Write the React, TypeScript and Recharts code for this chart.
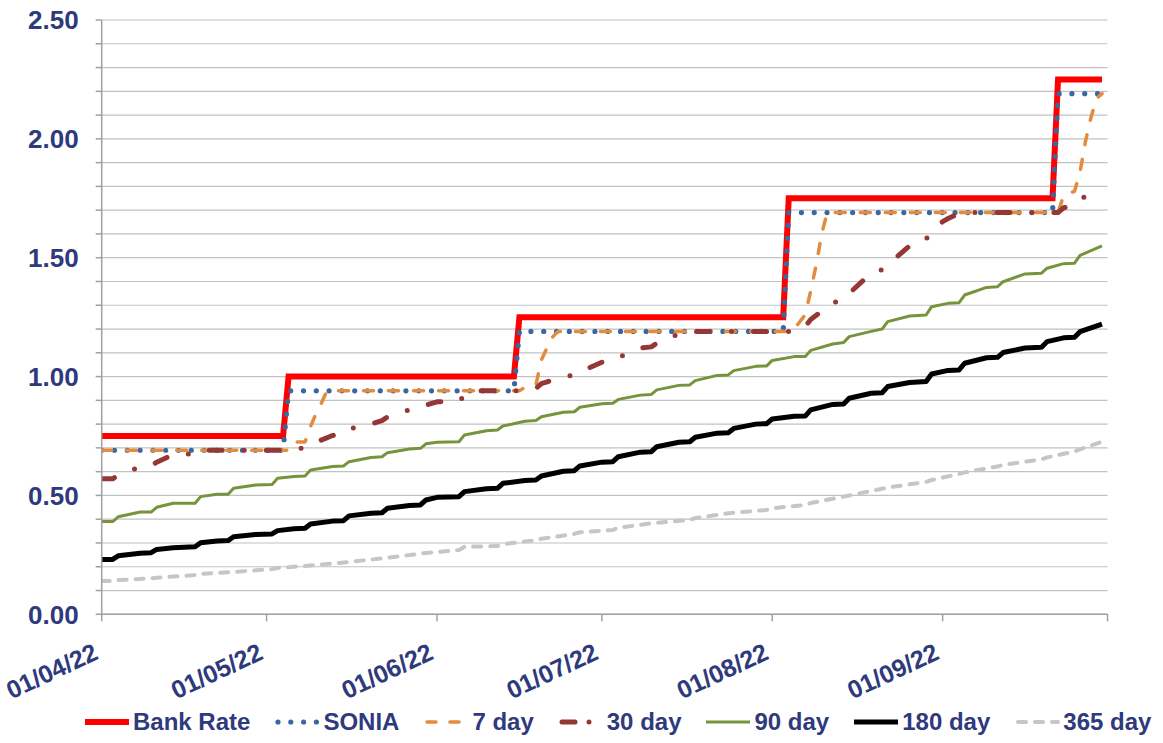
import React from "react";
import { LineChart, Line, XAxis, YAxis, CartesianGrid } from "recharts";

// x values are day offsets from 01/04/22 (01/10/22 = 183)
const X_TICKS = [0, 30, 61, 91, 122, 153, 183];
const X_TICK_LABELS = ["01/04/22", "01/05/22", "01/06/22", "01/07/22", "01/08/22", "01/09/22", ""];
const Y_TICKS = [0, 0.1, 0.2, 0.3, 0.4, 0.5, 0.6, 0.7, 0.8, 0.9, 1.0, 1.1, 1.2, 1.3, 1.4, 1.5, 1.6, 1.7, 1.8, 1.9, 2.0, 2.1, 2.2, 2.3, 2.4, 2.5];

const BANK_DAYS = [0, 33, 34, 75, 76, 124, 125, 173, 174, 182];
const BANK_RATE = [0.75, 0.75, 1.0, 1.0, 1.25, 1.25, 1.75, 1.75, 2.25, 2.25];

const SONIA_DAYS = [0, 33, 34, 75, 76, 124, 125, 173, 174, 182];
const SONIA = [0.69, 0.69, 0.94, 0.94, 1.19, 1.19, 1.69, 1.69, 2.19, 2.19];

const D7_DAYS = [0, 34, 35, 37, 38, 39, 40, 41, 76, 77, 79, 80, 81, 82, 83, 125, 126, 128, 129, 130, 131, 132, 174, 175, 177, 178, 179, 180, 181, 182];
const D7 = [0.69, 0.69, 0.725, 0.725, 0.79, 0.845, 0.89, 0.94, 0.94, 0.955, 0.965, 1.07, 1.12, 1.165, 1.19, 1.19, 1.2, 1.26, 1.36, 1.47, 1.6, 1.69, 1.69, 1.76, 1.78, 1.86, 1.99, 2.09, 2.17, 2.19];

const D30_DAYS = [0, 2, 3, 7, 9, 10, 13, 17, 18, 34, 35, 37, 38, 42, 44, 45, 49, 51, 52, 56, 58, 59, 61, 65, 66, 67, 68, 76, 77, 79, 80, 84, 86, 87, 91, 93, 94, 98, 100, 101, 105, 107, 108, 125, 126, 128, 129, 133, 135, 136, 140, 142, 143, 147, 149, 150, 153, 154, 156, 157, 174, 175, 177, 178, 179, 180, 181, 182];
const D30 = [0.57, 0.57, 0.585, 0.62, 0.625, 0.64, 0.672, 0.675, 0.69, 0.69, 0.695, 0.7, 0.715, 0.752, 0.76, 0.78, 0.8, 0.815, 0.83, 0.86, 0.87, 0.88, 0.894, 0.896, 0.92, 0.937, 0.94, 0.94, 0.945, 0.95, 0.97, 1.0, 1.005, 1.02, 1.06, 1.065, 1.08, 1.12, 1.125, 1.14, 1.18, 1.185, 1.19, 1.19, 1.2, 1.21, 1.24, 1.31, 1.325, 1.35, 1.435, 1.45, 1.47, 1.55, 1.56, 1.58, 1.652, 1.665, 1.687, 1.69, 1.69, 1.71, 1.72, 1.74, 1.76, 1.775, 1.79, 1.8];

const D90_DAYS = [0, 2, 3, 7, 9, 10, 13, 17, 18, 21, 23, 24, 28, 31, 32, 35, 37, 38, 42, 44, 45, 49, 51, 52, 56, 58, 59, 61, 65, 66, 70, 72, 73, 77, 79, 80, 84, 86, 87, 91, 93, 94, 98, 100, 101, 105, 107, 108, 112, 114, 115, 119, 121, 122, 126, 128, 129, 133, 135, 136, 140, 142, 143, 147, 150, 151, 154, 156, 157, 161, 163, 164, 168, 171, 172, 175, 177, 178, 182];
const D90 = [0.39, 0.39, 0.41, 0.43, 0.43, 0.45, 0.467, 0.467, 0.495, 0.505, 0.505, 0.53, 0.544, 0.546, 0.572, 0.58, 0.582, 0.607, 0.622, 0.624, 0.642, 0.66, 0.663, 0.68, 0.695, 0.698, 0.717, 0.724, 0.726, 0.754, 0.772, 0.775, 0.792, 0.812, 0.815, 0.831, 0.85, 0.852, 0.871, 0.886, 0.888, 0.904, 0.922, 0.925, 0.944, 0.963, 0.965, 0.983, 1.005, 1.007, 1.025, 1.043, 1.045, 1.068, 1.084, 1.084, 1.11, 1.137, 1.143, 1.168, 1.19, 1.2, 1.231, 1.255, 1.259, 1.294, 1.308, 1.311, 1.343, 1.375, 1.378, 1.399, 1.432, 1.435, 1.456, 1.475, 1.477, 1.51, 1.55];

const D180_DAYS = [0, 2, 3, 7, 9, 10, 13, 17, 18, 21, 23, 24, 28, 31, 32, 35, 37, 38, 42, 44, 45, 49, 51, 52, 56, 58, 59, 61, 65, 66, 70, 72, 73, 77, 79, 80, 84, 86, 87, 91, 93, 94, 98, 100, 101, 105, 107, 108, 112, 114, 115, 119, 121, 122, 126, 128, 129, 133, 135, 136, 140, 142, 143, 147, 150, 151, 154, 156, 157, 161, 163, 164, 168, 171, 172, 175, 177, 178, 182];
const D180 = [0.231, 0.231, 0.246, 0.257, 0.259, 0.273, 0.28, 0.284, 0.301, 0.308, 0.31, 0.326, 0.336, 0.338, 0.352, 0.36, 0.362, 0.38, 0.392, 0.394, 0.414, 0.425, 0.427, 0.446, 0.458, 0.46, 0.481, 0.492, 0.495, 0.516, 0.528, 0.53, 0.551, 0.563, 0.565, 0.582, 0.602, 0.604, 0.624, 0.64, 0.642, 0.663, 0.682, 0.684, 0.705, 0.724, 0.726, 0.745, 0.762, 0.764, 0.782, 0.8, 0.802, 0.822, 0.833, 0.834, 0.86, 0.883, 0.885, 0.909, 0.93, 0.932, 0.958, 0.975, 0.979, 1.011, 1.026, 1.028, 1.056, 1.079, 1.081, 1.101, 1.12, 1.123, 1.147, 1.163, 1.165, 1.189, 1.221];

const D365_DAYS = [0, 2, 3, 9, 10, 17, 18, 24, 31, 32, 38, 45, 52, 59, 65, 66, 72, 73, 79, 80, 86, 87, 93, 94, 100, 107, 108, 114, 121, 122, 128, 129, 135, 136, 142, 143, 150, 151, 156, 157, 163, 164, 171, 172, 177, 178, 182];
const D365 = [0.14, 0.14, 0.144, 0.151, 0.154, 0.165, 0.17, 0.178, 0.19, 0.195, 0.205, 0.22, 0.238, 0.258, 0.27, 0.284, 0.287, 0.295, 0.312, 0.318, 0.338, 0.345, 0.355, 0.364, 0.383, 0.397, 0.405, 0.425, 0.439, 0.446, 0.46, 0.468, 0.495, 0.5, 0.528, 0.533, 0.557, 0.565, 0.59, 0.597, 0.622, 0.628, 0.652, 0.66, 0.685, 0.694, 0.726];

const SERIES_NAMES = ["Bank Rate", "SONIA", "7 day", "30 day", "90 day", "180 day", "365 day"];

const toPoints = (days: number[], vals: number[]) => days.map((d, i) => ({ day: d, v: vals[i] }));

const NAVY = "#2E3A7C";
const FONT = "'Liberation Sans', Arial, sans-serif";

type Style = { color: string; width: number; dash?: string; cap?: "round" | "butt" | "square"; join?: "round" | "miter"; legendDash?: string };
const STYLES: Style[] = [
  { color: "#FF0000", width: 6, cap: "butt", join: "miter" },
  { color: "#3A67A0", width: 5.2, dash: "0 12.8", cap: "round", join: "round" },
  { color: "#E38B3E", width: 3.5, dash: "10 15", cap: "round", join: "round", legendDash: "9 14" },
  { color: "#953735", width: 5, dash: "13 22 0 22", cap: "round", join: "round", legendDash: "13 14 0 20" },
  { color: "#77933C", width: 3, cap: "butt", join: "round" },
  { color: "#000000", width: 5, cap: "butt", join: "round" },
  { color: "#C6C6C6", width: 4, dash: "8 9", cap: "round", join: "round" },
];

const SERIES_DATA = [
  toPoints(BANK_DAYS, BANK_RATE),
  toPoints(SONIA_DAYS, SONIA),
  toPoints(D7_DAYS, D7),
  toPoints(D30_DAYS, D30),
  toPoints(D90_DAYS, D90),
  toPoints(D180_DAYS, D180),
  toPoints(D365_DAYS, D365),
];

const XTick = (props: any) => {
  const { x, y, payload } = props;
  const idx = X_TICKS.indexOf(payload.value);
  const label = idx >= 0 ? X_TICK_LABELS[idx] : "";
  const tx = x - 2;
  const ty = y + 35;
  return (
    <text
      x={tx}
      y={ty}
      transform={`rotate(-25, ${tx}, ${ty})`}
      textAnchor="end"
      fill={NAVY}
      fontSize={25}
      fontWeight="bold"
      fontFamily={FONT}
    >
      {label}
    </text>
  );
};

const yFormat = (v: number) => (Math.abs(v * 2 - Math.round(v * 2)) < 1e-6 ? v.toFixed(2) : "");

const Swatch = ({ s }: { s: Style }) => (
  <svg width={46} height={14} style={{ display: "block" }}>
    <line
      x1={s.dash ? 4 : 1}
      y1={7}
      x2={s.dash ? 44 : 45}
      y2={7}
      stroke={s.color}
      strokeWidth={s.width}
      strokeDasharray={s.legendDash || s.dash}
      strokeLinecap={s.cap}
    />
  </svg>
);

export default function App() {
  return (
    <div style={{ position: "absolute", left: 0, top: 0, width: 1163, height: 743, background: "#fff" }}>
      <LineChart width={1163} height={743} margin={{ top: 20, right: 55.5, bottom: 0, left: 0 }}>
        <CartesianGrid vertical={false} stroke="#C2C2C2" strokeWidth={1.2} />
        <XAxis
          dataKey="day"
          type="number"
          domain={[0, 183]}
          ticks={X_TICKS}
          interval={0}
          height={128.7}
          tickSize={7}
          tick={<XTick />}
          axisLine={{ stroke: "#A0A0A0", strokeWidth: 1.5 }}
          tickLine={{ stroke: "#A0A0A0", strokeWidth: 1.5 }}
          allowDataOverflow
        />
        <YAxis
          type="number"
          domain={[0, 2.5]}
          ticks={Y_TICKS}
          interval={0}
          width={101.7}
          tickSize={6}
          tickMargin={17}
          tickFormatter={yFormat}
          tick={{ fill: NAVY, fontSize: 26, fontWeight: "bold", fontFamily: FONT }}
          axisLine={{ stroke: "#A0A0A0", strokeWidth: 1.5 }}
          tickLine={{ stroke: "#A0A0A0", strokeWidth: 1.5 }}
          allowDataOverflow
        />
        {SERIES_DATA.map((data, i) => (
          <Line
            key={SERIES_NAMES[i]}
            name={SERIES_NAMES[i]}
            data={data}
            dataKey="v"
            type="linear"
            dot={false}
            activeDot={false}
            isAnimationActive={false}
            stroke={STYLES[i].color}
            strokeWidth={STYLES[i].width}
            strokeDasharray={STYLES[i].dash}
            strokeLinecap={STYLES[i].cap}
            strokeLinejoin={STYLES[i].join}
          />
        ))}
      </LineChart>
      <div
        style={{
          position: "absolute",
          left: 84,
          top: 708,
          height: 28,
          display: "flex",
          alignItems: "center",
          gap: 24,
          fontFamily: FONT,
          fontWeight: "bold",
          fontSize: 24,
          color: NAVY,
          whiteSpace: "nowrap",
        }}
      >
        {SERIES_NAMES.map((n, i) => (
          <div key={n} style={{ display: "flex", alignItems: "center", gap: 3 }}>
            <Swatch s={STYLES[i]} />
            <span>{n}</span>
          </div>
        ))}
      </div>
    </div>
  );
}
